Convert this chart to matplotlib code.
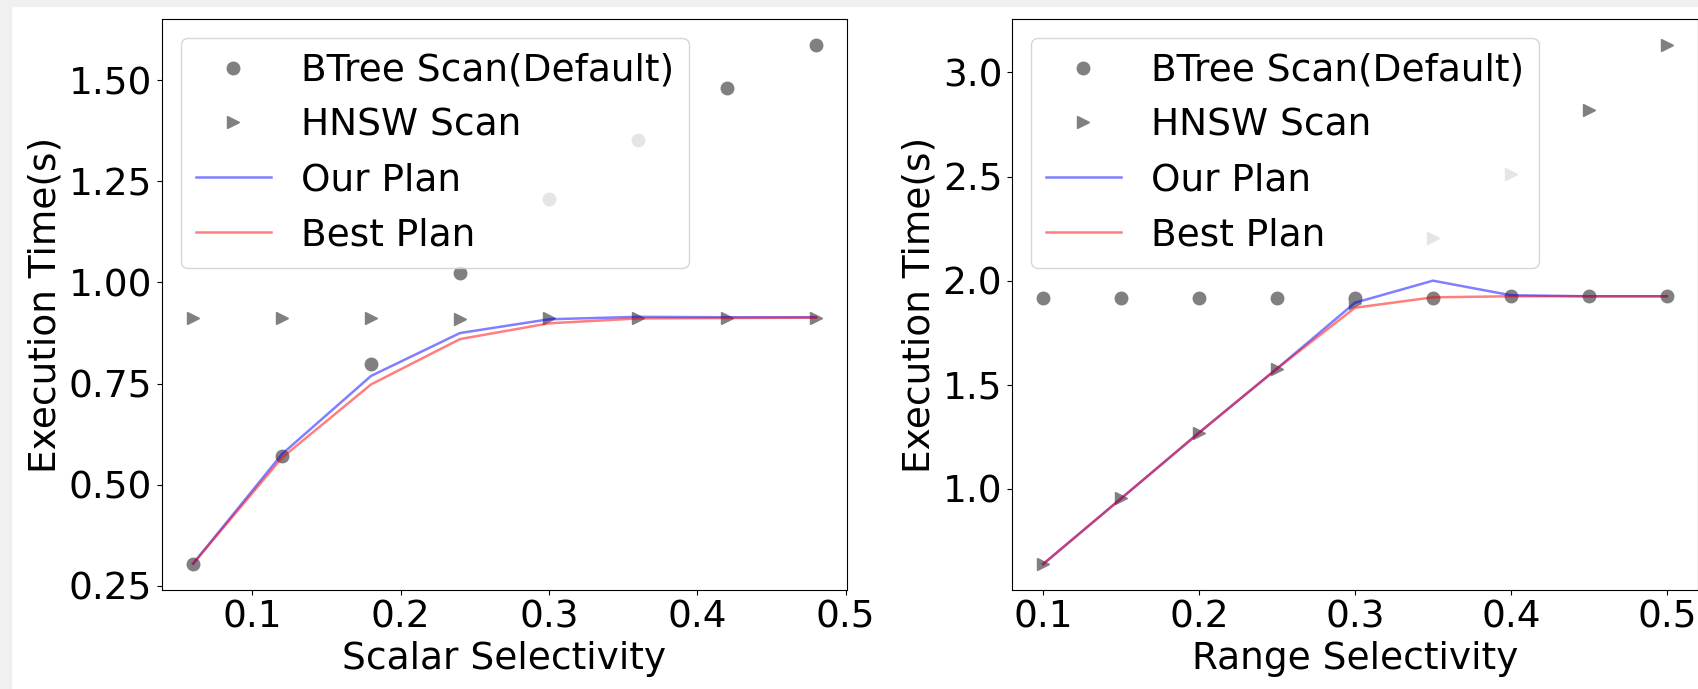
import numpy as np
import matplotlib.pyplot as plt
from matplotlib.patches import Rectangle

# Scalar selectivity experiment
scalar_sel = [0.06, 0.12, 0.18, 0.24, 0.30, 0.36, 0.42, 0.48]
scalar_btree = [0.304, 0.572, 0.799, 1.023, 1.206, 1.352, 1.480, 1.587]
scalar_hnsw = [0.912, 0.912, 0.912, 0.909, 0.912, 0.913, 0.913, 0.913]
scalar_our = [0.305, 0.576, 0.769, 0.875, 0.909, 0.915, 0.914, 0.914]
scalar_best = [0.305, 0.567, 0.748, 0.860, 0.899, 0.911, 0.912, 0.913]

# Range selectivity experiment
range_sel = [0.10, 0.15, 0.20, 0.25, 0.30, 0.35, 0.40, 0.45, 0.50]
range_btree = [1.917, 1.917, 1.917, 1.917, 1.917, 1.917, 1.925, 1.925, 1.925]
range_hnsw = [0.639, 0.954, 1.270, 1.578, 1.894, 2.207, 2.513, 2.820, 3.132]
range_our = [0.639, 0.954, 1.270, 1.578, 1.894, 2.000, 1.930, 1.925, 1.925]
range_best = [0.639, 0.954, 1.270, 1.578, 1.870, 1.920, 1.925, 1.925, 1.925]

fs = 27
plt.rcParams['font.size'] = fs

fig = plt.figure(figsize=(16.98, 6.89), dpi=100)
fig.patch.set_facecolor('white')

ax1 = fig.add_axes([162/1698, 99/689, 685/1698, 571/689])
ax2 = fig.add_axes([1012/1698, 99/689, 686/1698, 571/689])


def draw(ax, x, btree, hnsw, our, best, xlabel):
    ax.plot(x, btree, 'o', color='gray', markersize=9, label='BTree Scan(Default)')
    ax.plot(x, hnsw, '>', color='gray', markersize=9, label='HNSW Scan')
    ax.plot(x, our, color='blue', alpha=0.5, linewidth=1.8, label='Our Plan')
    ax.plot(x, best, color='red', alpha=0.5, linewidth=1.8, label='Best Plan')
    ax.set_xlabel(xlabel, fontsize=fs)
    ax.set_ylabel('Execution Time(s)', fontsize=fs)
    ax.tick_params(labelsize=fs)
    ax.legend(loc='upper left', fontsize=fs)


draw(ax1, scalar_sel, scalar_btree, scalar_hnsw, scalar_our, scalar_best, 'Scalar Selectivity')
draw(ax2, range_sel, range_btree, range_hnsw, range_our, range_best, 'Range Selectivity')
ax1.set_xticks([0.1, 0.2, 0.3, 0.4, 0.5])
ax1.set_yticks([0.25, 0.50, 0.75, 1.00, 1.25, 1.50])
ax2.set_xticks([0.1, 0.2, 0.3, 0.4, 0.5])
ax2.set_yticks([1.0, 1.5, 2.0, 2.5, 3.0])

# light grey frame strips like the notebook output
fig.add_artist(Rectangle((0, 0), 11/1698, 1, transform=fig.transFigure, color='#f0f0f0', zorder=-1))
fig.add_artist(Rectangle((0, 1 - 6/689), 1, 6/689, transform=fig.transFigure, color='#f0f0f0', zorder=-1))

fig.savefig('out.png', dpi=100)
